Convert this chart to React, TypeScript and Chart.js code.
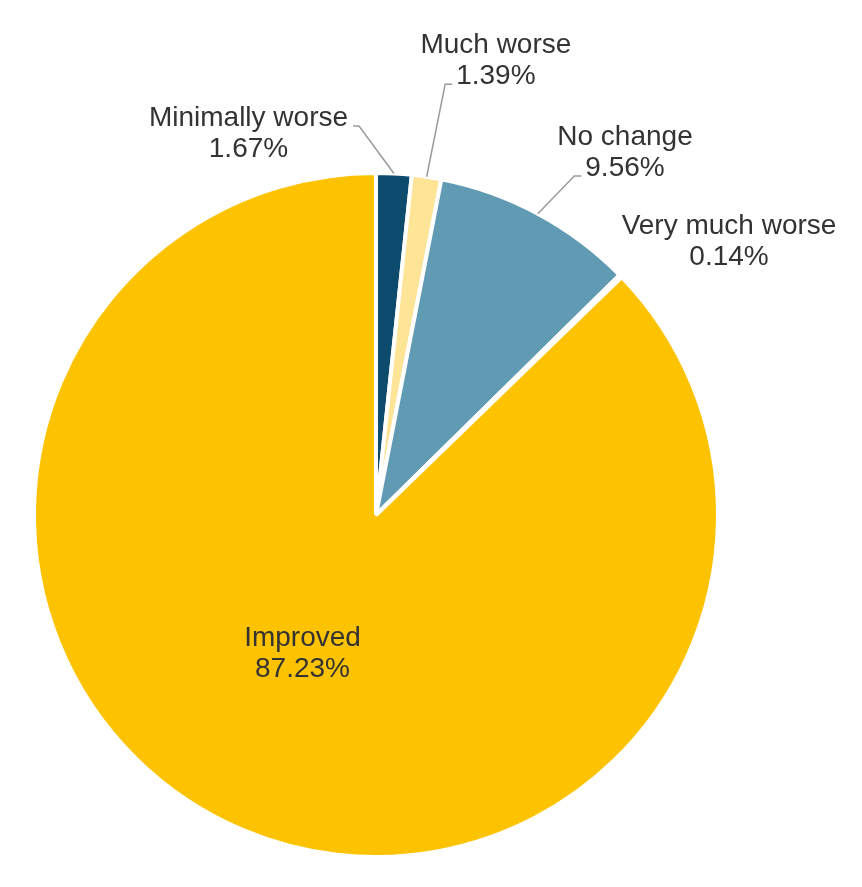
import React, { useEffect, useRef } from "react";
import { Chart, registerables } from "chart.js";

Chart.register(...registerables);

const categories = ["Minimally worse", "Much worse", "No change", "Very much worse", "Improved"];
const values = [1.67, 1.39, 9.56, 0.14, 87.23];
const valueLabels = ["1.67%", "1.39%", "9.56%", "0.14%", "87.23%"];
const colors = ["#0c4b6e", "#fde497", "#609bb3", "#d9d9d9", "#fec300"];

// label placement: angle (deg, clockwise from top) and distance (in outer radii) of the first text baseline
const labelAngles = [-18.15, 14.55, 33.94, 51.5, 209.3];
const labelDistances = [1.197, 1.395, 1.304, 1.319, 0.439];
const leaderSides = ["right", "left", "left", "none", "none"];

const labelPlugin = {
  id: "sliceLabels",
  afterDatasetsDraw(chart: any) {
    const ctx = chart.ctx as CanvasRenderingContext2D;
    const meta = chart.getDatasetMeta(0);
    ctx.save();
    ctx.font = "28px 'Liberation Sans', Arial, sans-serif";
    ctx.textAlign = "center";
    ctx.textBaseline = "alphabetic";
    const lineGap = 31;
    meta.data.forEach((arc: any, i: number) => {
      const { x, y, startAngle, endAngle, outerRadius } = arc.getProps(
        ["x", "y", "startAngle", "endAngle", "outerRadius"],
        true
      );
      const a = (labelAngles[i] * Math.PI) / 180;
      const d = labelDistances[i] * outerRadius;
      const cx = x + d * Math.sin(a);
      const b1 = y - d * Math.cos(a);
      const b2 = b1 + lineGap;
      ctx.fillStyle = "#333333";
      ctx.fillText(categories[i], cx, b1);
      ctx.fillText(valueLabels[i], cx, b2);
      const side = leaderSides[i];
      if (side !== "none") {
        const mid = (startAngle + endAngle) / 2;
        const ex = x + outerRadius * Math.cos(mid);
        const ey = y + outerRadius * Math.sin(mid);
        ctx.beginPath();
        ctx.strokeStyle = "#9a9a9a";
        ctx.lineWidth = 1.5;
        if (side === "right") {
          const w = ctx.measureText(categories[i]).width;
          const sx = cx + w / 2 + 5;
          ctx.moveTo(sx, b1);
          ctx.lineTo(sx + 6, b1);
          ctx.lineTo(ex, ey);
        } else {
          const w = ctx.measureText(valueLabels[i]).width;
          const sx = cx - w / 2 - 4;
          ctx.moveTo(sx, b2);
          ctx.lineTo(sx - 7, b2);
          ctx.lineTo(ex, ey);
        }
        ctx.stroke();
      }
    });
    ctx.restore();
  },
};

export default function App() {
  const canvasRef = useRef<HTMLCanvasElement | null>(null);

  useEffect(() => {
    document.body.style.margin = "0";
    const canvas = canvasRef.current;
    if (!canvas) return;
    const chart = new Chart(canvas, {
      type: "pie",
      data: {
        labels: categories,
        datasets: [
          {
            data: values,
            backgroundColor: colors,
            borderColor: "#ffffff",
            borderWidth: 4,
          },
        ],
      },
      options: {
        responsive: false,
        animation: false,
        layout: { padding: { left: 32, right: 142, top: 171, bottom: 28 } },
        plugins: {
          legend: { display: false },
          tooltip: { enabled: false },
        },
      },
      plugins: [labelPlugin],
    });
    return () => chart.destroy();
  }, []);

  return (
    <div style={{ width: 862, height: 887, background: "#ffffff" }}>
      <canvas ref={canvasRef} width={862} height={887} style={{ display: "block" }} />
    </div>
  );
}
